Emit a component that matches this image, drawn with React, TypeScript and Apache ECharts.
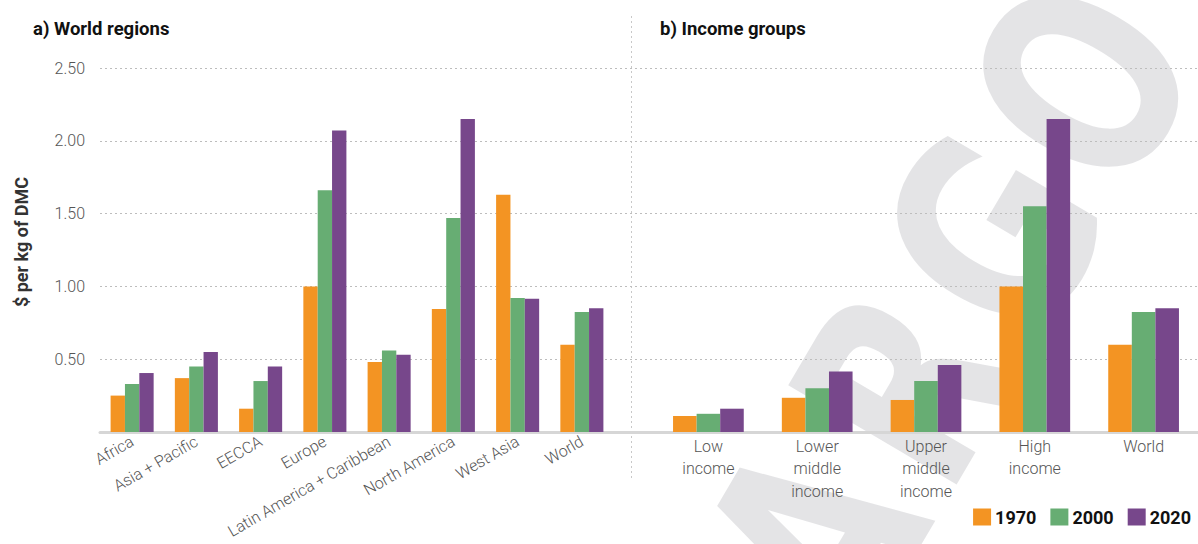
import React, { useEffect, useRef } from "react";
import * as echarts from "echarts";

const regionCategories = [
  "Africa",
  "Asia + Pacific",
  "EECCA",
  "Europe",
  "Latin America + Caribbean",
  "North America",
  "West Asia",
  "World",
];
const region1970 = [0.25, 0.37, 0.16, 1.0, 0.48, 0.845, 1.63, 0.6];
const region2000 = [0.33, 0.45, 0.35, 1.66, 0.56, 1.47, 0.92, 0.825];
const region2020 = [0.405, 0.55, 0.45, 2.07, 0.53, 2.15, 0.915, 0.85];

const incomeCategories = [
  "Low\nincome",
  "Lower\nmiddle\nincome",
  "Upper\nmiddle\nincome",
  "High\nincome",
  "World",
];
const income1970 = [0.11, 0.235, 0.22, 1.0, 0.6];
const income2000 = [0.125, 0.3, 0.35, 1.55, 0.825];
const income2020 = [0.16, 0.415, 0.46, 2.15, 0.85];

const years = ["1970", "2000", "2020"];
const colors = ["#F39423", "#67AD73", "#77478B"];
const yTicks = [0, 0.5, 1.0, 1.5, 2.0, 2.5];
const watermarkLetters = ["E", "M", "B", "A", "R", "G", "O"];

const FONT = "Roboto, 'Noto Sans', sans-serif";

export default function App() {
  const ref = useRef<HTMLDivElement>(null);
  useEffect(() => {
    if (!ref.current) return;
    const chart = echarts.init(ref.current, undefined, { renderer: "svg" });
    const yMin = yTicks[0];
    const yMax = yTicks[yTicks.length - 1];
    const yInt = yTicks[1] - yTicks[0];
    const hiddenY = (gi: number) => ({
      type: "value",
      gridIndex: gi,
      min: yMin,
      max: yMax,
      interval: yInt,
      show: false,
      splitLine: { show: false },
    });
    const regionData = [region1970, region2000, region2020];
    const incomeData = [income1970, income2000, income2020];
    const series: any[] = [];
    years.forEach((y, i) => {
      series.push({
        type: "bar",
        name: y,
        xAxisIndex: 1,
        yAxisIndex: 1,
        data: regionData[i],
        itemStyle: { color: colors[i] },
        barGap: "0%",
        barCategoryGap: "33%",
      });
    });
    years.forEach((y, i) => {
      series.push({
        type: "bar",
        name: y,
        xAxisIndex: 2,
        yAxisIndex: 2,
        data: incomeData[i],
        itemStyle: { color: colors[i] },
        barGap: "0%",
        barCategoryGap: "35%",
      });
    });
    const angle = (59.5 * Math.PI) / 180;
    const step = 176;
    const n = watermarkLetters.length;
    const watermarkChildren = watermarkLetters.map((ch, i) => ({
      type: "text",
      x: (i - (n - 1)) * step,
      y: 0,
      scaleX: 0.74,
      silent: true,
      style: {
        text: ch,
        font: "bold 268px 'DejaVu Sans', sans-serif",
        align: "center",
        verticalAlign: "middle",
        fill: "rgba(90,90,100,0.16)",
      },
    }));
    chart.setOption({
      animation: false,
      backgroundColor: "#ffffff",
      textStyle: { fontFamily: FONT },
      title: [
        {
          text: "a) World regions",
          left: 28,
          top: 14,
          textStyle: { fontSize: 18.5, fontWeight: "bold", color: "#111", fontFamily: FONT },
        },
        {
          text: "b) Income groups",
          left: 655,
          top: 14,
          textStyle: { fontSize: 18.5, fontWeight: "bold", color: "#111", fontFamily: FONT },
        },
      ],
      legend: {
        data: years,
        right: 2,
        top: 503,
        icon: "rect",
        itemWidth: 18,
        itemHeight: 17,
        itemGap: 14,
        textStyle: { fontSize: 18, fontWeight: "bold", color: "#111", fontFamily: FONT, padding: [0, 0, 0, -1] },
      },
      grid: [
        { left: 100, right: 0, top: 68, bottom: 112 },
        { left: 100, width: 514, top: 68, bottom: 112 },
        { left: 654, width: 554, top: 68, bottom: 112 },
      ],
      xAxis: [
        {
          type: "category",
          gridIndex: 0,
          data: [],
          axisLine: { show: true, lineStyle: { color: "#d6d6d6", width: 3 } },
          axisTick: { show: false },
          axisLabel: { show: false },
        },
        {
          type: "category",
          gridIndex: 1,
          data: regionCategories,
          axisLine: { show: false },
          axisTick: { show: false },
          axisLabel: {
            interval: 0,
            rotate: 30,
            margin: 8,
            fontSize: 16,
            fontWeight: 300,
            color: "#555",
            fontFamily: FONT,
          },
        },
        {
          type: "category",
          gridIndex: 2,
          data: incomeCategories,
          axisLine: { show: false },
          axisTick: { show: false },
          axisLabel: {
            interval: 0,
            margin: 3,
            fontSize: 16,
            fontWeight: 300,
            lineHeight: 22.5,
            color: "#555",
            fontFamily: FONT,
          },
        },
      ],
      yAxis: [
        {
          type: "value",
          gridIndex: 0,
          min: yMin,
          max: yMax,
          interval: yInt,
          axisLine: { show: false },
          axisTick: { show: false },
          axisLabel: {
            margin: 15,
            fontSize: 16,
            fontWeight: 300,
            color: "#555",
            fontFamily: FONT,
            formatter: (v: number) => (v === 0 ? "" : v.toFixed(2)),
          },
          splitLine: {
            show: true,
            lineStyle: { color: "#bdbdbd", type: [2, 3], width: 1 },
          },
        },
        hiddenY(1),
        hiddenY(2),
      ],
      series,
      graphic: [
        {
          type: "text",
          x: 21,
          y: 242,
          rotation: Math.PI / 2,
          silent: true,
          style: {
            text: "$ per kg of DMC",
            fontSize: 18,
            fontWeight: "bold",
            fontFamily: FONT,
            fill: "#333",
            align: "center",
            verticalAlign: "middle",
          },
        },
        {
          type: "line",
          shape: { x1: 631.5, y1: 16, x2: 631.5, y2: 480 },
          style: { stroke: "#c8c8c8", lineWidth: 1, lineDash: [2, 3] },
          silent: true,
        },
        {
          type: "group",
          x: 1085,
          y: 84,
          rotation: angle,
          z: 100,
          silent: true,
          children: watermarkChildren,
        },
      ],
    });
    return () => chart.dispose();
  }, []);
  return <div ref={ref} style={{ width: 1198, height: 544, position: "absolute", left: 0, top: 0 }} />;
}
